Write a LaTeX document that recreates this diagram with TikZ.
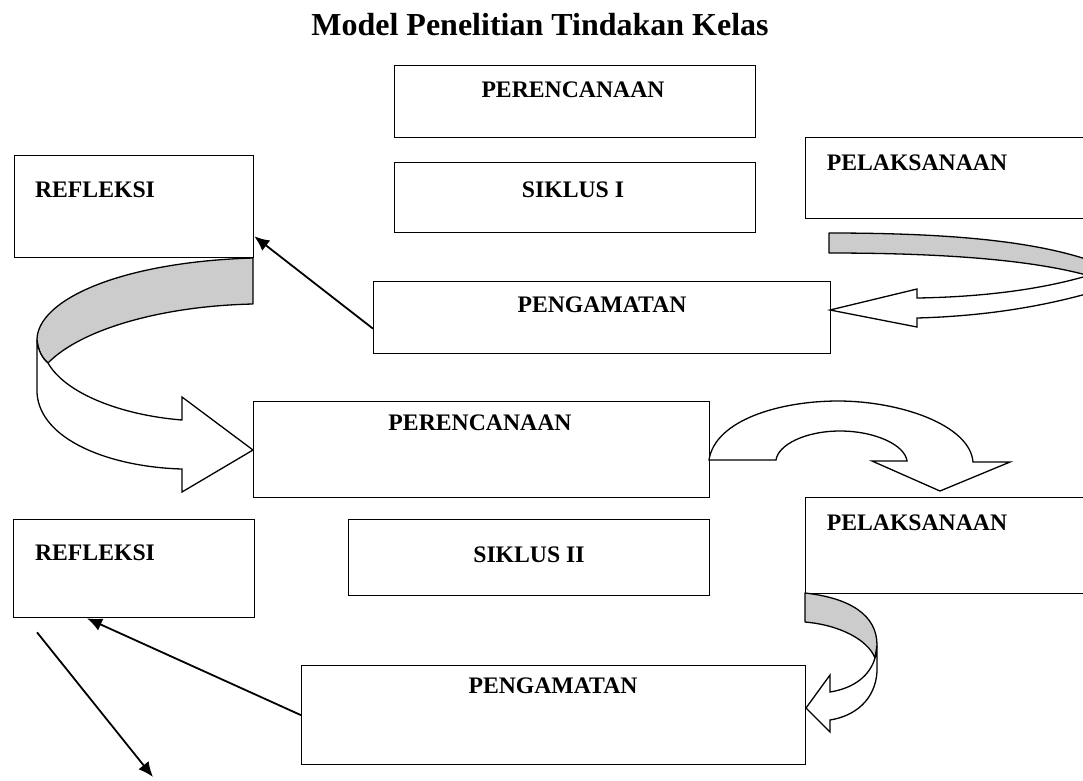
\documentclass[tikz,border=0pt]{standalone}
\usepackage{fontspec}
\setmainfont{Liberation Serif}
\usetikzlibrary{arrows.meta,calc}
\tikzstyle{box}=[rectangle, draw=black, line width=1.3pt, fill=white, inner sep=0pt, anchor=north west]
\tikzstyle{annot}=[align=center, inner sep=0pt, font=\fontsize{23.7}{28}\selectfont\bfseries]
\tikzstyle{link}=[line width=1.8pt, -{Latex[length=15pt,width=13pt]}]
\tikzstyle{band}=[fill=black!20, draw=black, line width=1.3pt, line join=round]
\tikzstyle{blockarrow}=[fill=white, draw=black, line width=1.3pt, line join=miter]

\begin{document}
\begin{tikzpicture}[x=1pt,y=-1pt]
	\useasboundingbox (0,0) rectangle (1083,780);
	\clip (0,0) rectangle (1083,780);

	\node[font=\fontsize{32}{38}\selectfont\bfseries] (title) at (540,25) {Model Penelitian Tindakan Kelas};

	% siklus I
	\node[box, minimum width=361pt, minimum height=72pt] (plan1) at (394,65) {};
	\node[box, minimum width=361pt, minimum height=70pt] (cycle1) at (394,162) {};
	\node[box, minimum width=290pt, minimum height=81pt] (act1) at (805,137) {};
	\node[box, minimum width=239pt, minimum height=102pt] (refl1) at (14,155) {};
	\node[box, minimum width=457pt, minimum height=72pt] (obs1) at (373,281) {};
	\node[annot] (plan1txt) at (573,90) {PERENCANAAN};
	\node[annot] (cycle1txt) at (573,190) {SIKLUS I};
	\node[annot] (act1txt) at (917,163) {PELAKSANAAN};
	\node[annot] (refl1txt) at (95,190) {REFLEKSI};
	\node[annot] (obs1txt) at (602,305) {PENGAMATAN};

	% siklus II
	\node[box, minimum width=456pt, minimum height=96pt] (plan2) at (253,401) {};
	\node[box, minimum width=361pt, minimum height=76pt] (cycle2) at (348,519) {};
	\node[box, minimum width=290pt, minimum height=96pt] (act2) at (805,497) {};
	\node[box, minimum width=241pt, minimum height=98pt] (refl2) at (13,519) {};
	\node[box, minimum width=504pt, minimum height=99pt] (obs2) at (301,665) {};
	\node[annot] (plan2txt) at (480,423) {PERENCANAAN};
	\node[annot] (cycle2txt) at (529,555) {SIKLUS II};
	\node[annot] (act2txt) at (917,523) {PELAKSANAAN};
	\node[annot] (refl2txt) at (95,553) {REFLEKSI};
	\node[annot] (obs2txt) at (553,686) {PENGAMATAN};

	% pelaksanaan -> pengamatan
	\draw[band] (829,233) .. controls (950,233) and (1040,241) .. (1100,264) -- (1100,278) -- (1090,276) .. controls (1040,262) and (960,253) .. (829,253) -- cycle;
	\draw[blockarrow] (1090,275) .. controls (1040,290) and (980,297) .. (917,298) -- (917,289) -- (830,310) -- (917,327) -- (917,318) .. controls (990,316) and (1050,305) .. (1100,290) -- (1100,272) -- cycle;

	% refleksi -> perencanaan
	\draw[band] (253,258) .. controls (120,262) and (37,300) .. (37,340) .. controls (38,350) and (42,358) .. (48,363) .. controls (80,330) and (160,306) .. (253,304) -- cycle;
	\draw[blockarrow] (37,340) -- (37,393) .. controls (40,440) and (110,467) .. (182,469) -- (182,492) -- (253,450) -- (182,397) -- (182,420) .. controls (120,415) and (65,393) .. (48,363) .. controls (42,358) and (38,350) .. (37,340) -- cycle;

	% perencanaan -> pelaksanaan
	\draw[blockarrow] (709,460) .. controls (715,420) and (780,401) .. (838,401) .. controls (900,401) and (970,425) .. (973,462) -- (1010,462) -- (940,491) -- (872,461) -- (907,461) .. controls (905,445) and (875,431) .. (840,431) .. controls (805,431) and (778,445) .. (776,460) -- cycle;

	% pelaksanaan -> pengamatan
	\draw[band] (805,593) .. controls (850,598) and (877,615) .. (877,645) -- (875,658) .. controls (868,640) and (840,625) .. (805,622) -- cycle;
	\draw[blockarrow] (877,650) -- (877,672) .. controls (875,700) and (855,716) .. (830,720) -- (830,732) -- (806,708) -- (830,675) -- (830,692) .. controls (855,688) and (870,675) .. (875,658) -- cycle;

	% pengamatan -> refleksi
	\draw[link] ([yshift=-11pt]obs1.west) -- ([yshift=22pt]refl1.south east);
	\draw[link] (obs2.west) -- ([xshift=74pt]refl2.south west);

	\coordinate (refl2out) at ([xshift=24pt,yshift=-14pt]refl2.south west);
	\coordinate (nextcycle) at (153,777);
	\draw[link] (refl2out) -- (nextcycle);
\end{tikzpicture}
\end{document}
